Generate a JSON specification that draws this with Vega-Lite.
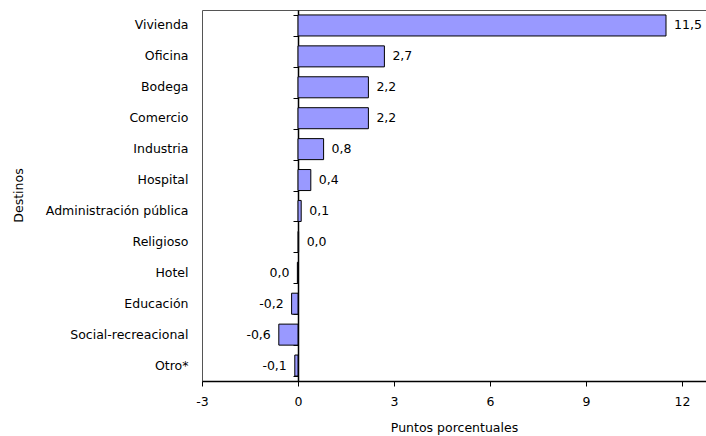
{
  "$schema": "https://vega.github.io/schema/vega-lite/v6.json",
  "width": 504,
  "height": 371,
  "autosize": {"type": "none"},
  "padding": {"left": 202, "top": 10, "right": 0, "bottom": 55},
  "background": "white",
  "config": {
    "locale": {"number": {"decimal": ",", "thousands": ".", "grouping": [3], "currency": ["", ""], "minus": "-"}},
    "font": "DejaVu Sans",
    "view": {"stroke": "#555555", "strokeWidth": 1},
    "axis": {"labelFont": "DejaVu Sans", "titleFont": "DejaVu Sans", "labelFontSize": 12.5, "titleFontSize": 12.5, "titleFontWeight": "normal", "labelColor": "black", "titleColor": "black", "grid": false}
  },
  "data": {
    "values": [
      {"destino": "Vivienda", "valor": 11.5},
      {"destino": "Oficina", "valor": 2.7},
      {"destino": "Bodega", "valor": 2.2},
      {"destino": "Comercio", "valor": 2.2},
      {"destino": "Industria", "valor": 0.8},
      {"destino": "Hospital", "valor": 0.4},
      {"destino": "Administración pública", "valor": 0.1},
      {"destino": "Religioso", "valor": 0.02},
      {"destino": "Hotel", "valor": -0.02},
      {"destino": "Educación", "valor": -0.2},
      {"destino": "Social-recreacional", "valor": -0.6},
      {"destino": "Otro*", "valor": -0.1}
    ]
  },
  "encoding": {
    "y": {"field": "destino", "type": "nominal", "sort": null,
      "scale": {"paddingInner": 0.32, "paddingOuter": 0.16}}
  },
  "layer": [
    {
      "mark": {"type": "bar", "fill": "#9999FF", "stroke": "black", "strokeWidth": 1},
      "encoding": {
        "x": {"field": "valor", "type": "quantitative",
          "scale": {"domain": [-3, 12.75], "nice": false, "zero": false},
          "axis": {"values": [-3, 0, 3, 6, 9, 12], "title": "Puntos porcentuales", "domainColor": "black", "domainWidth": 1.5, "tickColor": "black", "tickSize": 5, "labelPadding": 9, "titlePadding": 14, "format": "d", "labelFlush": false}},
        "y": {"field": "destino", "type": "nominal", "sort": null,
          "axis": {"orient": "left", "title": "Destinos", "domain": false, "ticks": false, "tickSize": 0, "labelPadding": 14, "titleAngle": -90, "titleX": -184, "titleY": 185, "titleBaseline": "middle", "titleAlign": "center"}}
      }
    },
    {
      "transform": [{"filter": "datum.valor >= 0"}],
      "mark": {"type": "text", "align": "left", "dx": 8, "fontSize": 12.5, "font": "DejaVu Sans", "color": "black"},
      "encoding": {
        "x": {"field": "valor", "type": "quantitative"},
        "text": {"field": "valor", "type": "quantitative", "format": ".1f"},
        "y": {"field": "destino", "type": "nominal", "sort": null,
          "axis": {"orient": "left", "offset": -96, "title": null, "labels": false, "domain": true, "domainColor": "black", "domainWidth": 1.5, "ticks": true, "tickColor": "black", "tickSize": 5, "tickBand": "extent"}}
      }
    },
    {
      "transform": [{"filter": "datum.valor < 0"}],
      "mark": {"type": "text", "align": "right", "dx": -8, "fontSize": 12.5, "font": "DejaVu Sans", "color": "black"},
      "encoding": {
        "x": {"field": "valor", "type": "quantitative"},
        "text": {"field": "valor", "type": "quantitative", "format": ".1f"},
        "y": {"field": "destino", "type": "nominal", "sort": null, "axis": null}
      }
    }
  ],
  "resolve": {"axis": {"y": "independent"}}
}
